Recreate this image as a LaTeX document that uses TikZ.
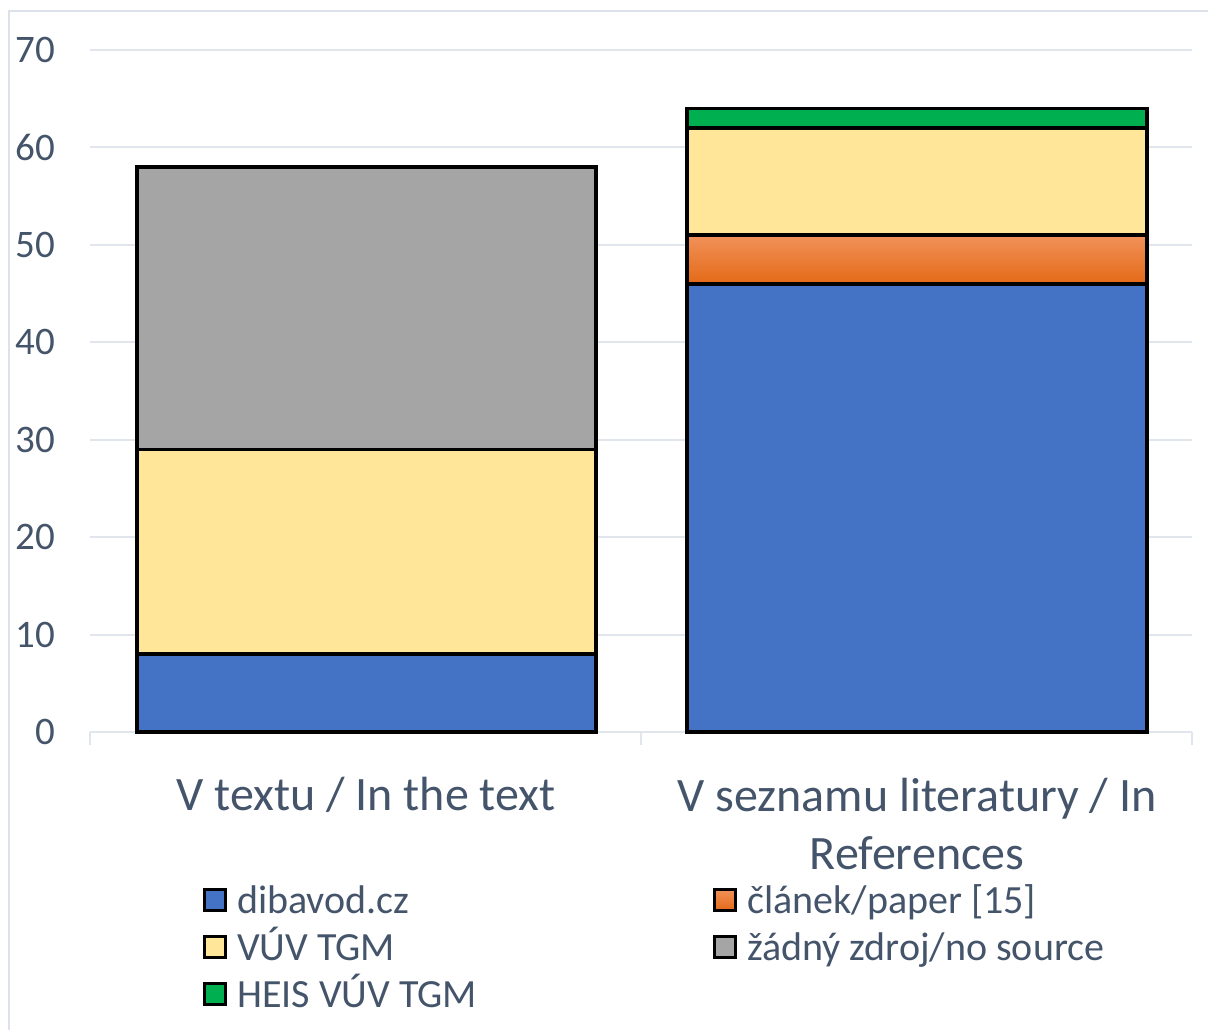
\documentclass[tikz,border=0pt]{standalone}
\usepackage{fontspec}
\setmainfont{Carlito}
\usetikzlibrary{positioning}

\definecolor{txtgray}{HTML}{44546A}
\definecolor{gridgray}{HTML}{E1E5EC}
\definecolor{framegray}{HTML}{DDE2EA}
\definecolor{dibblue}{HTML}{4472C4}
\definecolor{vuvyellow}{HTML}{FFE699}
\definecolor{nogray}{HTML}{A5A5A5}
\definecolor{heisgreen}{HTML}{00B050}
\definecolor{papertop}{HTML}{F1915A}
\definecolor{paperbot}{HTML}{E46A17}

\begin{document}
\begin{tikzpicture}[x=1pt, y=1pt,
	seg/.style={draw=black, line width=3.5pt},
	gridline/.style={draw=gridgray, line width=2pt},
	ticklbl/.style={text=txtgray, font=\fontsize{39}{46}\selectfont, anchor=east, inner sep=0pt},
	catlbl/.style={text=txtgray, font=\fontsize{48}{58}\selectfont, align=center},
	key/.style={draw=black, line width=3pt, minimum size=21pt, inner sep=0pt},
	keylbl/.style={text=txtgray, font=\fontsize{40}{46}\selectfont, anchor=west, inner sep=0pt,
		text height=34pt, text depth=6pt}]
	\useasboundingbox (0,0) rectangle (1208,1030);
	\clip (0,0) rectangle (1208,1030);
	
	% chart frame
	\draw[framegray, line width=1.5pt] (9,1019) rectangle (1220,-10);
	
	\begin{scope}[shift={(0,298)}, y=9.743pt]
		% grid and value labels
		\foreach \v in {10,20,...,70}
		\draw[gridline] (90,\v) -- (1192,\v);
		\foreach \v in {0,10,...,70}
		\node[ticklbl] (tick\v) at (55,\v) {\v};
		
		% axis
		\draw[gridline] (90,0) -- (1192,0);
		\foreach \x in {90,641,1192}
		\draw[gridline] (\x,0) -- (\x,-1.35);
		
		% V textu / In the text
		\draw[seg, fill=dibblue] (137,0) rectangle (596,8);
		\draw[seg, fill=vuvyellow] (137,8) rectangle (596,29);
		\draw[seg, fill=nogray] (137,29) rectangle (596,58);
		
		% V seznamu literatury / In References
		\draw[seg, fill=dibblue] (687,0) rectangle (1147,46);
		\shade[top color=papertop, bottom color=paperbot] (687,46) rectangle (1147,51);
		\draw[seg] (687,46) rectangle (1147,51);
		\draw[seg, fill=vuvyellow] (687,51) rectangle (1147,62);
		\draw[seg, fill=heisgreen] (687,62) rectangle (1147,64);
	\end{scope}
	
	% category labels
	\node[catlbl] (cattext) at (366,235) {V textu / In the text};
	\node[catlbl] (catref) at (917,206) {V seznamu literatury / In\\References};
	
	% legend
	\node[key, fill=dibblue] (kdib) at (215,130) {};
	\node[keylbl, right=10pt of kdib] (ldib) {dibavod.cz};
	\node[key, fill=vuvyellow] (kvuv) at (215,83) {};
	\node[keylbl, right=10pt of kvuv] (lvuv) {VÚV TGM};
	\node[key, fill=heisgreen] (kheis) at (215,36) {};
	\node[keylbl, right=10pt of kheis] (lheis) {HEIS VÚV TGM};
	\node[key, top color=papertop, bottom color=paperbot] (kpaper) at (725,130) {};
	\node[keylbl, right=10pt of kpaper] (lpaper) {článek/paper [15]};
	\node[key, fill=nogray] (kno) at (725,83) {};
	\node[keylbl, right=10pt of kno] (lno) {žádný zdroj/no source};
\end{tikzpicture}
\end{document}
